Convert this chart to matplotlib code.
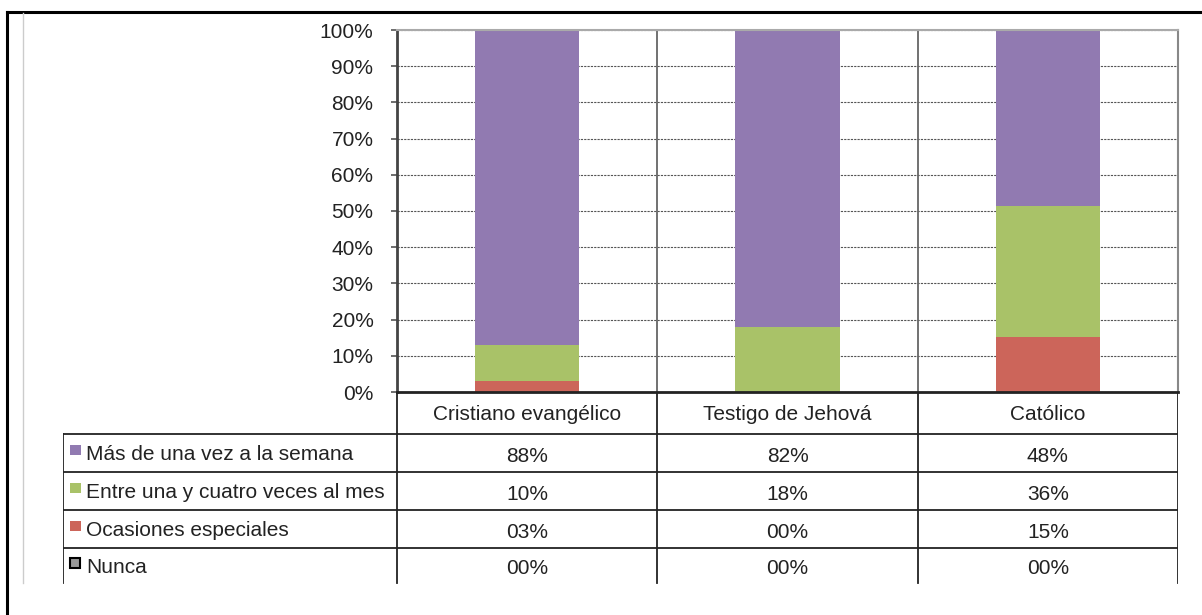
import numpy as np
import matplotlib.pyplot as plt
from matplotlib.patches import Rectangle

plt.rcParams['font.family'] = ['Liberation Sans', 'DejaVu Sans']

# Datos
categorias = ['Cristiano evangélico', 'Testigo de Jehová', 'Católico']
series = ['Más de una vez a la semana', 'Entre una y cuatro veces al mes',
          'Ocasiones especiales', 'Nunca']
mas_semana = [88, 82, 48]
entre_mes = [10, 18, 36]
ocasiones = [3, 0, 15]
nunca = [0, 0, 0]
etiquetas = [['88%', '82%', '48%'],
             ['10%', '18%', '36%'],
             ['03%', '00%', '15%'],
             ['00%', '00%', '00%']]

colores = ['#917AB1', '#A9C268', '#CC655A', '#999999']
texto = '#222222'
fs = 15

W, H = 1202, 615
fig = plt.figure(figsize=(W / 100, H / 100), dpi=100)

def px(x0, y0, x1, y1):
    return [x0 / W, 1 - y1 / H, (x1 - x0) / W, (y1 - y0) / H]

# Marco exterior
marco = fig.add_axes([0, 0, 1, 1])
marco.set_xlim(0, W)
marco.set_ylim(H, 0)
marco.axis('off')
marco.plot([7, W], [12, 12], color='black', lw=2.2)
marco.plot([7, 7], [12, H], color='black', lw=2.2)
marco.plot([23, 23], [13, 583], color='#cccccc', lw=1)

# Gráfico de barras apiladas al 100%
ax = fig.add_axes(px(397, 30, 1178, 392))
valores = np.array([ocasiones, entre_mes, mas_semana], dtype=float)
totales = valores.sum(axis=0) + np.array(nunca)
pct = valores / totales * 100
x = np.arange(len(categorias))
base = np.zeros(len(categorias))
for fila, color in zip(pct, [colores[2], colores[1], colores[0]]):
    ax.bar(x, fila, bottom=base, width=0.4, color=color, zorder=3)
    base += fila

ax.set_xlim(-0.5, 2.5)
ax.set_ylim(0, 100)
ax.set_yticks(np.arange(0, 101, 10))
ax.set_yticklabels([f'{v}%' for v in range(0, 101, 10)])
ax.set_xticks([])
ax.yaxis.grid(True, color='#555555', linestyle=(0, (2, 1)), lw=0.8, zorder=1)
ax.tick_params(axis='y', length=4, width=1.2, color='#555555', pad=13,
               labelsize=fs, labelcolor=texto)
for xs in [0.5, 1.5]:
    ax.axvline(xs, color='#666666', lw=1.3, zorder=2)
ax.spines['left'].set_color('#444444')
ax.spines['left'].set_linewidth(2)
ax.spines['bottom'].set_color('#222222')
ax.spines['bottom'].set_linewidth(2)
ax.spines['right'].set_color('#888888')
ax.spines['right'].set_linewidth(1.5)
ax.spines['top'].set_color('#aaaaaa')
ax.spines['top'].set_linewidth(1.5)
for s in ax.spines.values():
    s.set_zorder(4)

# Tabla de datos
tab = fig.add_axes(px(63, 392, 1178, 585))
u = (1178 - 397) / 3
izq = -0.5 - (397 - 63) / u
tab.set_xlim(izq, 2.5)
tab.set_ylim(585, 392)
tab.axis('off')
filas_y = [392, 434, 472, 510, 548, 583]
lc = '#222222'
# horizontales
tab.plot([-0.5, 2.5], [434, 434], color=lc, lw=1.3)
tab.plot([izq, -0.5], [434, 434], color=lc, lw=1.3)
for y in filas_y[2:5]:
    tab.plot([izq, 2.5], [y, y], color=lc, lw=1.3)
tab.plot([izq, izq], [434, 583], color=lc, lw=1.3)
for xs in [-0.5, 0.5, 1.5, 2.5]:
    tab.plot([xs, xs], [392, 583], color=lc, lw=1.3)

for j, cat in enumerate(categorias):
    tab.text(j, 415, cat, ha='center', va='center', fontsize=fs, color=texto)

for i, nombre in enumerate(series):
    yc = (filas_y[i + 1] + filas_y[i + 2]) / 2
    x0 = izq + 7 / u
    if nombre == 'Nunca':
        tab.add_patch(Rectangle((x0, yc - 8), 10 / u, 10, facecolor=colores[3],
                                edgecolor='black', lw=1.5))
    else:
        tab.add_patch(Rectangle((x0, yc - 8), 11 / u, 10, facecolor=colores[i],
                                edgecolor='none'))
    tab.text(izq + 23 / u, yc + 2, nombre, ha='left', va='center',
             fontsize=fs, color=texto)
    for j in range(len(categorias)):
        tab.text(j, yc + 3, etiquetas[i][j], ha='center', va='center',
                 fontsize=fs, color=texto)

fig.savefig('out.png', dpi=100)
